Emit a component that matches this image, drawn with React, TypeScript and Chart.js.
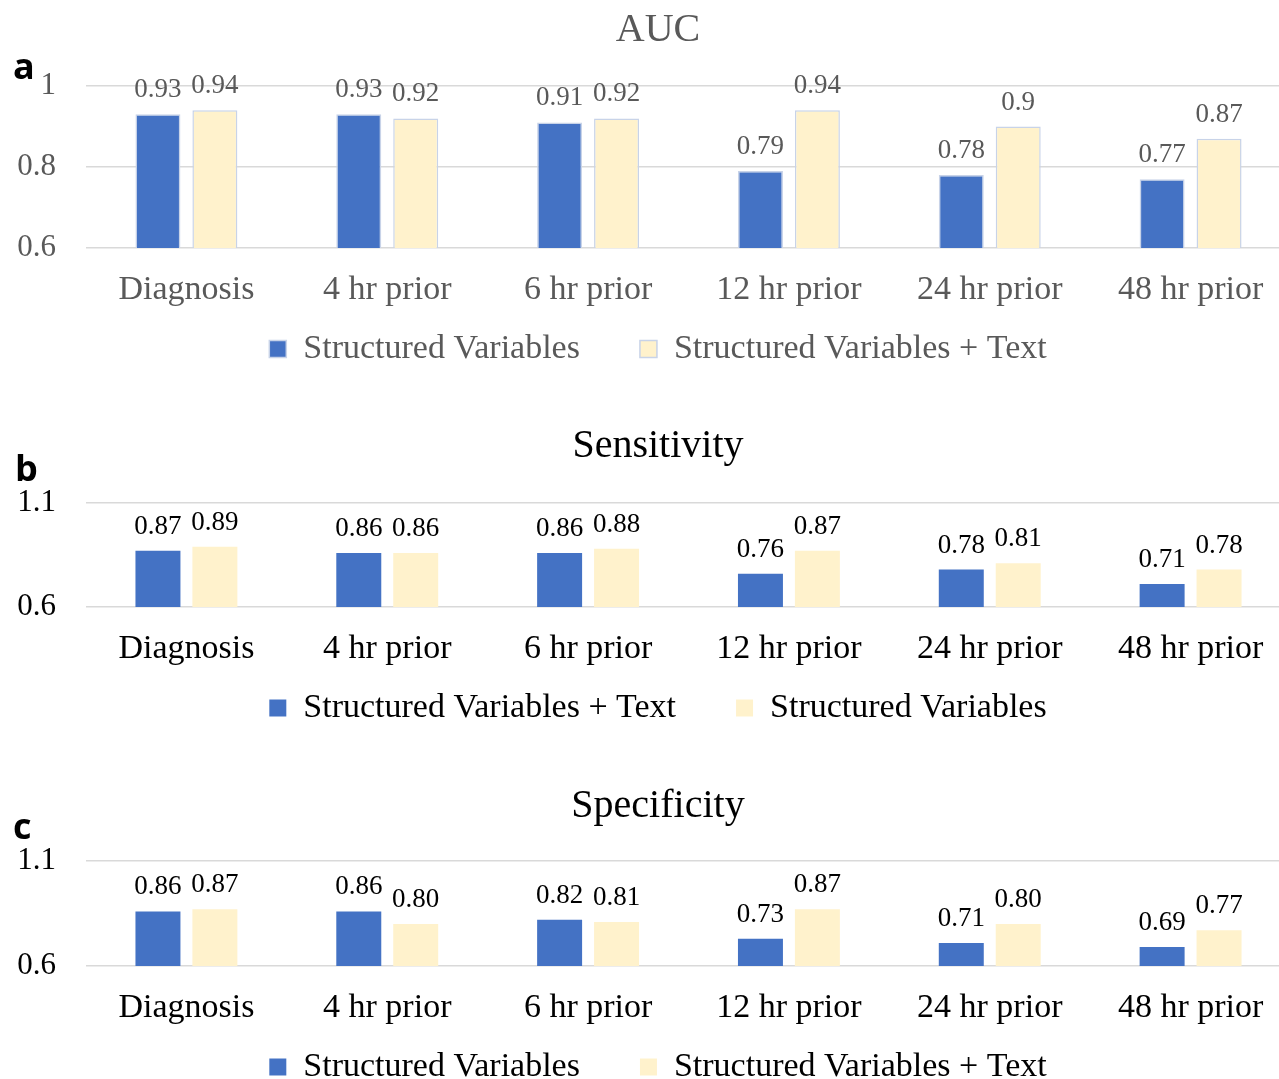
import React, { useEffect, useRef } from "react";
import { Chart, registerables } from "chart.js";

Chart.register(...registerables);

// ---------- data ----------
const categories = ["Diagnosis", "4 hr prior", "6 hr prior", "12 hr prior", "24 hr prior", "48 hr prior"];

const aucStructured = [0.93, 0.93, 0.91, 0.79, 0.78, 0.77];
const aucStructuredText = [0.94, 0.92, 0.92, 0.94, 0.9, 0.87];

// Panel b legend as in the figure: blue = "Structured Variables + Text", cream = "Structured Variables"
const sensBlue = [0.87, 0.86, 0.86, 0.76, 0.78, 0.71];
const sensCream = [0.89, 0.86, 0.88, 0.87, 0.81, 0.78];

const specStructured = [0.86, 0.86, 0.82, 0.73, 0.71, 0.69];
const specStructuredText = [0.87, 0.8, 0.81, 0.87, 0.8, 0.77];

const aucAxis = [0.6, 1, 0.2]; // min, max, step
const sensAxis = [0.6, 1.1, 0.5];
const specAxis = [0.6, 1.1, 0.5];

const SERIF = "'Liberation Serif', 'Times New Roman', serif";
const BLUE = "#4472C4";
const CREAM = "#FFF2CC";

const valueLabels = {
  id: "valueLabels",
  afterDatasetsDraw(chart: any, _args: any, opts: any) {
    const ctx = chart.ctx;
    ctx.save();
    ctx.font = `${opts.size}px ${SERIF}`;
    ctx.fillStyle = opts.color;
    ctx.textAlign = "center";
    ctx.textBaseline = "alphabetic";
    chart.data.datasets.forEach((ds: any, i: number) => {
      const meta = chart.getDatasetMeta(i);
      meta.data.forEach((bar: any, j: number) => {
        const v = ds.data[j];
        const txt = opts.fixed ? v.toFixed(2) : String(v);
        ctx.fillText(txt, bar.x, bar.y - opts.offset);
      });
    });
    ctx.restore();
  },
};

// moves the legend box up closer to the axis labels (keeps the wide horizontal item gap)
const legendShift = {
  id: "legendShift",
  afterLayout(chart: any, _args: any, opts: any) {
    const lg = chart.legend;
    if (!lg) return;
    const h = lg.height;
    lg.top = chart.chartArea.bottom + opts.gap;
    lg.bottom = lg.top + h;
  },
};

const CANVAS_W = 1316;

type PanelProps = {
  top: number;
  height: number;
  title: string;
  letter: string;
  letterTop: number;
  letterLeft: number;
  color: string;
  axis: number[];
  fixed: boolean;
  bordered: boolean;
  series: { label: string; data: number[]; color: string }[];
  titlePadBottom: number;
};

function Panel(p: PanelProps) {
  const ref = useRef<HTMLCanvasElement>(null);
  useEffect(() => {
    const chart = new Chart(ref.current as HTMLCanvasElement, {
      type: "bar",
      data: {
        labels: categories,
        datasets: p.series.map((s) => ({
          label: s.label,
          data: s.data,
          backgroundColor: s.color,
          borderColor: p.bordered ? "#C8D3E8" : s.color,
          borderWidth: p.bordered ? 1.5 : 0,
          categoryPercentage: 0.567,
          barPercentage: 0.79,
        })),
      },
      plugins: [valueLabels, legendShift],
      options: {
        responsive: false,
        animation: false,
        layout: { padding: 0 },
        scales: {
          x: {
            grid: { display: false },
            border: { display: false },
            ticks: { color: p.color, font: { family: SERIF, size: 34 }, padding: 13.5, autoSkip: false, maxRotation: 0 },
            afterFit: (scale: any) => {
              scale.height = 64;
            },
          },
          y: {
            min: p.axis[0],
            max: p.axis[1],
            border: { display: false },
            grid: { color: "#D9D9D9", lineWidth: 1.5, drawTicks: false },
            ticks: {
              stepSize: p.axis[2],
              color: p.color,
              padding: 30,
              font: { family: SERIF, size: 31 },
              callback: (v: any) => String(Math.round(Number(v) * 10) / 10),
            },
            afterFit: (scale: any) => {
              scale.width = 86;
            },
          },
          yRight: {
            type: "linear",
            position: "right",
            display: true,
            grid: { display: false },
            border: { display: false },
            ticks: { display: false },
            afterFit: (scale: any) => {
              scale.width = 25;
            },
          },
        },
        plugins: {
          title: {
            display: true,
            text: p.title,
            color: p.color,
            font: { family: SERIF, size: 40, weight: "normal" },
            padding: { top: 6, bottom: p.titlePadBottom },
          },
          legend: {
            position: "bottom",
            labels: {
              color: p.color,
              font: { family: SERIF, size: 34 },
              boxWidth: 17,
              boxHeight: 17,
              padding: 60,
            },
          },
          legendShift: { gap: 24 },
          tooltip: { enabled: false },
          valueLabels: { size: 27, color: p.color, offset: 17, fixed: p.fixed },
        } as any,
      } as any,
    });
    return () => chart.destroy();
  }, []);
  return (
    <>
      <canvas
        ref={ref}
        width={CANVAS_W}
        height={p.height}
        style={{ position: "absolute", left: 0, top: p.top, width: CANVAS_W, height: p.height }}
      />
      <div
        style={{
          position: "absolute",
          left: p.letterLeft,
          top: p.letterTop,
          fontFamily: "'Open Sans', sans-serif",
          fontWeight: 700,
          fontSize: 36,
          lineHeight: 1,
          color: "#000",
        }}
      >
        {p.letter}
      </div>
    </>
  );
}

export default function App() {
  return (
    <div style={{ position: "absolute", left: 0, top: 0, width: 1279, height: 1079, background: "#fff", overflow: "hidden" }}>
      <Panel
        top={0}
        height={416}
        title="AUC"
        letter="a"
        letterTop={48}
        letterLeft={13}
        color="#595959"
        axis={aucAxis}
        fixed={false}
        bordered={true}
        titlePadBottom={32}
        series={[
          { label: "Structured Variables", data: aucStructured, color: BLUE },
          { label: "Structured Variables + Text", data: aucStructuredText, color: CREAM },
        ]}
      />
      <Panel
        top={416}
        height={359}
        title="Sensitivity"
        letter="b"
        letterTop={450}
        letterLeft={15}
        color="#000000"
        axis={sensAxis}
        fixed={true}
        bordered={false}
        titlePadBottom={33}
        series={[
          { label: "Structured Variables + Text", data: sensBlue, color: BLUE },
          { label: "Structured Variables", data: sensCream, color: CREAM },
        ]}
      />
      <Panel
        top={776}
        height={358}
        title="Specificity"
        letter="c"
        letterTop={808}
        letterLeft={13}
        color="#000000"
        axis={specAxis}
        fixed={true}
        bordered={false}
        titlePadBottom={31}
        series={[
          { label: "Structured Variables", data: specStructured, color: BLUE },
          { label: "Structured Variables + Text", data: specStructuredText, color: CREAM },
        ]}
      />
    </div>
  );
}
